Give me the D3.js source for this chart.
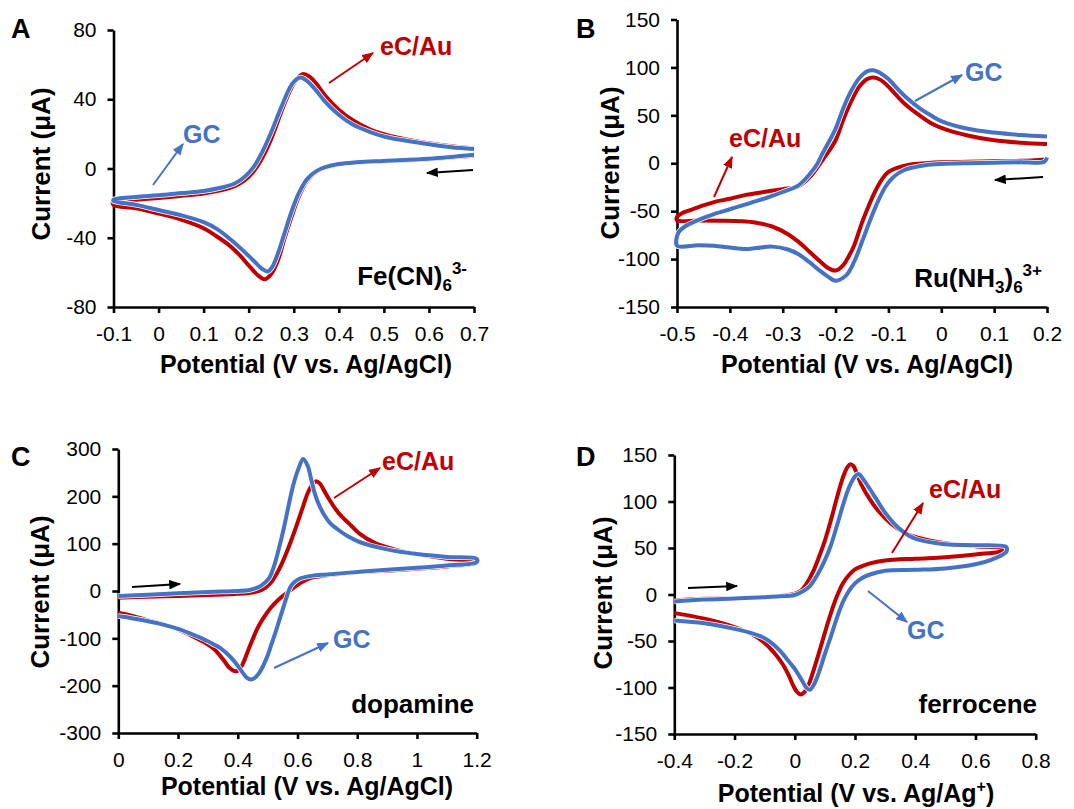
<!DOCTYPE html>
<html>
<head>
<meta charset="utf-8">
<script src="https://cdn.jsdelivr.net/npm/d3@7"></script>
<style>
  body { margin: 0; background: #fff; }
  svg text { font-family: "Liberation Sans", Arial, sans-serif; }
</style>
</head>
<body>
<div id="chart"></div>
<script>
// ---- Panel A: Fe(CN)6 3- (E / V, I / uA), loop starts at 0.7 V going negative
const feXTicks = [-0.1, 0, 0.1, 0.2, 0.3, 0.4, 0.5, 0.6, 0.7];
const feYTicks = [-80, -40, 0, 40, 80];
const feEcAu = [
  [0.70, 7.3], [0.60, 5.4], [0.50, 4.2], [0.44, 3.4], [0.40, 2.4], [0.37, 0.5], [0.35, -2],
  [0.33, -7], [0.31, -17], [0.295, -28], [0.28, -40], [0.265, -53], [0.25, -61], [0.236, -64],
  [0.222, -62], [0.20, -56], [0.18, -50], [0.155, -44], [0.125, -38.5], [0.10, -34.5],
  [0.05, -29.5], [0.0, -26], [-0.05, -23], [-0.1, -21],
  [-0.1, -19], [-0.05, -18], [0.0, -17], [0.05, -15.8], [0.10, -14.5], [0.14, -12.5],
  [0.17, -10], [0.19, -7], [0.21, -2], [0.23, 6], [0.25, 17], [0.27, 31], [0.29, 44],
  [0.305, 51], [0.32, 54.5], [0.335, 53], [0.35, 49], [0.37, 42], [0.40, 34], [0.43, 28],
  [0.47, 22.5], [0.50, 19.8], [0.55, 16.8], [0.60, 14.6], [0.65, 12.8], [0.70, 11.5]
];
const feGC = [
  [0.70, 7.9], [0.60, 5.6], [0.50, 4.4], [0.44, 3.6], [0.40, 2.6], [0.37, 0.8], [0.35, -1.5],
  [0.33, -6], [0.31, -15], [0.295, -25], [0.28, -37], [0.265, -49], [0.252, -57], [0.242, -59.5],
  [0.23, -58], [0.21, -53], [0.19, -48], [0.16, -41], [0.13, -35], [0.10, -31], [0.05, -27],
  [0.0, -24], [-0.05, -21], [-0.1, -18.7],
  [-0.1, -18], [-0.05, -16.5], [0.0, -15.5], [0.05, -14.2], [0.10, -13], [0.14, -11],
  [0.17, -8.5], [0.19, -5], [0.21, 0.5], [0.23, 9.5], [0.25, 21], [0.27, 34], [0.29, 46],
  [0.30, 50], [0.315, 52.5], [0.33, 50.5], [0.35, 45], [0.37, 38.5], [0.40, 31], [0.43, 25.5],
  [0.47, 21], [0.50, 18.5], [0.55, 16], [0.60, 14], [0.65, 12.3], [0.70, 11.3]
];

// ---- Panel B: Ru(NH3)6 3+, loop starts at 0.2 V going negative
const ruXTicks = [-0.5, -0.4, -0.3, -0.2, -0.1, 0, 0.1, 0.2];
const ruYTicks = [-150, -100, -50, 0, 50, 100, 150];
const ruEcAu = [
  [0.2, 4], [0.15, 2.5], [0.1, 2], [0.05, 1.5], [0.0, 1], [-0.03, 0], [-0.06, -1.5],
  [-0.085, -5], [-0.10, -9], [-0.11, -15], [-0.12, -24], [-0.13, -35], [-0.14, -48],
  [-0.15, -62], [-0.165, -86], [-0.175, -97], [-0.185, -106], [-0.2, -112], [-0.215, -109],
  [-0.23, -102], [-0.25, -92], [-0.27, -82], [-0.29, -74], [-0.32, -66], [-0.35, -62],
  [-0.38, -60.5], [-0.42, -60], [-0.46, -59.8], [-0.5, -59.5],
  [-0.5, -56], [-0.49, -52], [-0.475, -49], [-0.45, -44], [-0.43, -40.5], [-0.40, -37],
  [-0.37, -33], [-0.33, -29.5], [-0.30, -27], [-0.27, -24], [-0.248, -14], [-0.225, 3],
  [-0.216, 10], [-0.2, 24], [-0.185, 46], [-0.17, 65], [-0.155, 80], [-0.14, 88],
  [-0.128, 89.5], [-0.115, 87], [-0.10, 80], [-0.085, 71], [-0.065, 60], [-0.04, 49.5],
  [-0.02, 42], [0.0, 37], [0.05, 29], [0.10, 24], [0.15, 21.5], [0.2, 20]
];
const ruGC = [
  [0.2, 6], [0.195, 1.5], [0.15, 1], [0.1, 0.5], [0.05, 0], [0.0, -0.8], [-0.03, -2],
  [-0.05, -4], [-0.07, -7], [-0.09, -14], [-0.105, -24], [-0.12, -40], [-0.135, -60],
  [-0.15, -82], [-0.165, -103], [-0.18, -117], [-0.2, -122.5], [-0.215, -118], [-0.23, -112],
  [-0.25, -103], [-0.27, -95], [-0.29, -90], [-0.32, -87], [-0.35, -88.5], [-0.37, -89.5],
  [-0.40, -88], [-0.43, -86], [-0.46, -85.5], [-0.5, -86],
  [-0.497, -72], [-0.485, -66], [-0.475, -63], [-0.45, -57], [-0.43, -53], [-0.40, -48],
  [-0.37, -43], [-0.33, -36], [-0.30, -30], [-0.27, -23], [-0.25, -12], [-0.235, -1],
  [-0.225, 10], [-0.21, 25], [-0.2, 36], [-0.185, 58], [-0.17, 76], [-0.155, 89], [-0.14, 96],
  [-0.128, 97], [-0.115, 94], [-0.10, 88], [-0.085, 79], [-0.065, 68], [-0.04, 57],
  [-0.02, 50], [0.0, 44], [0.05, 36], [0.10, 32], [0.15, 29.5], [0.2, 28]
];

// ---- Panel C: dopamine, loop starts at 0 V going positive
const dopXTicks = [0, 0.2, 0.4, 0.6, 0.8, 1, 1.2];
const dopYTicks = [-300, -200, -100, 0, 100, 200, 300];
const dopEcAu = [
  [0, -14], [0.1, -12], [0.2, -10.5], [0.3, -8.5], [0.4, -6], [0.45, -3], [0.48, 2],
  [0.51, 17], [0.54, 48], [0.57, 92], [0.595, 135], [0.615, 172], [0.635, 208], [0.65, 225],
  [0.662, 232], [0.675, 227], [0.69, 211], [0.705, 195], [0.72, 180], [0.74, 163],
  [0.76, 150], [0.78, 138], [0.81, 120], [0.86, 101], [0.93, 87], [1.0, 78], [1.1, 68],
  [1.2, 62],
  [1.2, 59.5], [1.1, 52], [1.0, 47], [0.9, 43], [0.8, 40], [0.7, 33], [0.646, 28],
  [0.61, 17], [0.592, 9], [0.565, -4], [0.537, -18], [0.51, -36], [0.483, -60], [0.465, -80],
  [0.45, -102], [0.435, -125], [0.423, -145], [0.41, -162], [0.398, -169], [0.385, -168],
  [0.37, -161], [0.355, -148], [0.34, -136], [0.32, -122], [0.3, -113], [0.25, -96],
  [0.2, -81], [0.15, -70], [0.1, -62], [0.05, -53], [0, -46]
];
const dopGC = [
  [0, -10.5], [0.1, -7.7], [0.2, -5], [0.3, -2], [0.4, 0], [0.44, 2], [0.461, 6], [0.48, 12],
  [0.505, 27], [0.52, 50], [0.537, 88], [0.555, 135], [0.57, 180], [0.585, 222], [0.603, 258],
  [0.619, 279], [0.635, 263], [0.645, 238], [0.657, 208], [0.67, 185], [0.69, 160],
  [0.71, 143], [0.733, 131], [0.77, 115], [0.81, 103], [0.9, 88], [1.0, 78], [1.1, 72],
  [1.2, 68],
  [1.2, 61], [1.1, 54], [1.0, 49], [0.9, 45], [0.8, 40], [0.7, 35], [0.646, 32], [0.603, 25],
  [0.585, 16], [0.575, 7], [0.565, -10], [0.554, -32], [0.54, -60], [0.526, -88],
  [0.512, -114], [0.499, -138], [0.485, -158], [0.472, -173], [0.458, -183], [0.444, -187],
  [0.43, -183], [0.417, -173], [0.4, -158], [0.385, -146], [0.36, -130], [0.341, -120],
  [0.32, -113], [0.3, -106], [0.25, -92], [0.2, -80], [0.15, -71], [0.1, -64], [0.05, -58],
  [0, -53]
];

// ---- Panel D: ferrocene, loop starts at -0.4 V going positive
const fcXTicks = [-0.4, -0.2, 0, 0.2, 0.4, 0.6, 0.8];
const fcYTicks = [-150, -100, -50, 0, 50, 100, 150];
const fcEcAu = [
  [-0.4, -6.5], [-0.3, -4.7], [-0.2, -4], [-0.1, -2.8], [-0.05, -1.5], [0, 1], [0.02, 4],
  [0.04, 12], [0.06, 24], [0.08, 40], [0.1, 58], [0.12, 80], [0.14, 104], [0.16, 126],
  [0.175, 137], [0.185, 140], [0.195, 138], [0.205, 131], [0.22, 119], [0.25, 102],
  [0.28, 89], [0.32, 76], [0.36, 67], [0.4, 62], [0.5, 55], [0.6, 52], [0.7, 49],
  [0.7, 47.5], [0.6, 43], [0.5, 40], [0.4, 38.5], [0.3, 36.5], [0.25, 33.5], [0.22, 30],
  [0.2, 27], [0.18, 21], [0.16, 12], [0.14, -2], [0.12, -20], [0.1, -41], [0.08, -63],
  [0.06, -84], [0.045, -98], [0.032, -105], [0.02, -107.5], [0.008, -105], [-0.005, -98],
  [-0.02, -87], [-0.04, -75], [-0.065, -64], [-0.1, -52], [-0.14, -43], [-0.2, -35],
  [-0.3, -26], [-0.4, -20]
];
const fcGC = [
  [-0.4, -7.5], [-0.3, -5.4], [-0.2, -4.3], [-0.1, -2.9], [-0.05, -2], [0, -0.5], [0.03, 4],
  [0.05, 9], [0.075, 21], [0.1, 37], [0.12, 53], [0.14, 74], [0.16, 96], [0.18, 115],
  [0.2, 127], [0.212, 129.5], [0.225, 125], [0.24, 118], [0.27, 103], [0.3, 88], [0.35, 70],
  [0.4, 60], [0.5, 54], [0.6, 53], [0.7, 51.5],
  [0.705, 49], [0.7, 45], [0.65, 37], [0.6, 32.5], [0.5, 28], [0.4, 26.5], [0.3, 25.5],
  [0.25, 21.5], [0.22, 17], [0.2, 12], [0.18, 4], [0.16, -8], [0.14, -25], [0.12, -45],
  [0.1, -64], [0.08, -84], [0.065, -96], [0.05, -102.5], [0.038, -100], [0.025, -93],
  [0.01, -85], [0, -80], [-0.025, -70], [-0.05, -60], [-0.1, -47], [-0.15, -41], [-0.2, -37],
  [-0.3, -31], [-0.4, -28]
];

const RED = "#c00000";
const BLUE = "#4472c4";

const svg = d3.select("#chart").append("svg")
  .attr("width", 1074)
  .attr("height", 809);

const defs = svg.append("defs");
[["red", RED], ["blue", BLUE], ["black", "#000"]].forEach(([id, c]) => {
  defs.append("marker")
    .attr("id", "ah-" + id)
    .attr("viewBox", "0 0 10 8")
    .attr("refX", 9)
    .attr("refY", 4)
    .attr("markerUnits", "userSpaceOnUse")
    .attr("markerWidth", 12)
    .attr("markerHeight", 10)
    .attr("orient", "auto")
    .append("path")
    .attr("d", "M0,0L10,4L0,8Z")
    .attr("fill", c);
});

function arrow(x1, y1, x2, y2, id, color) {
  svg.append("line")
    .attr("x1", x1).attr("y1", y1).attr("x2", x2).attr("y2", y2)
    .attr("stroke", color)
    .attr("stroke-width", 2)
    .attr("marker-end", `url(#ah-${id})`);
}

function label(x, y, txt, color, size, anchor) {
  return svg.append("text")
    .attr("x", x).attr("y", y)
    .attr("fill", color)
    .attr("font-size", size)
    .attr("font-weight", "bold")
    .attr("text-anchor", anchor || "start")
    .text(txt);
}

function drawPanel(p) {
  const x = d3.scaleLinear().domain(p.xDomain).range([p.left, p.right]);
  const y = d3.scaleLinear().domain(p.yDomain).range([p.bottom, p.top]);
  const g = svg.append("g");

  const yAxis = d3.axisLeft(y)
    .tickValues(p.yTicks)
    .tickFormat(d => String(d))
    .tickSize(6)
    .tickSizeOuter(0)
    .tickPadding(11);
  const xAxis = d3.axisBottom(x)
    .tickValues(p.xTicks)
    .tickFormat(d => String(d))
    .tickSize(6)
    .tickSizeOuter(0)
    .tickPadding(13);

  const ya = g.append("g").attr("transform", `translate(${p.left},0)`).call(yAxis);
  const xa = g.append("g").attr("transform", `translate(0,${p.bottom})`).call(xAxis);
  [ya, xa].forEach(a => {
    a.select(".domain").attr("stroke", "#000").attr("stroke-width", 2.6);
    a.selectAll(".tick line").attr("stroke", "#000").attr("stroke-width", 2.6);
    a.selectAll(".tick text")
      .attr("font-size", 21)
      .attr("fill", "#000")
      .attr("font-family", "'Liberation Sans', Arial, sans-serif");
  });

  const line = d3.line()
    .x(d => x(d[0]))
    .y(d => y(d[1]))
    .curve(d3.curveCatmullRom.alpha(0.5));

  g.append("path")
    .datum(p.red)
    .attr("d", line)
    .attr("fill", "none")
    .attr("stroke", RED)
    .attr("stroke-width", 4)
    .attr("stroke-linejoin", "round");
  g.append("path")
    .datum(p.blue)
    .attr("d", line)
    .attr("fill", "none")
    .attr("stroke", "#fff")
    .attr("stroke-width", 5.5)
    .attr("stroke-linejoin", "round");
  g.append("path")
    .datum(p.blue)
    .attr("d", line)
    .attr("fill", "none")
    .attr("stroke", BLUE)
    .attr("stroke-width", 4)
    .attr("stroke-linejoin", "round");

  // axis titles
  svg.append("text")
    .attr("transform", `translate(${p.yTitleX},${p.yTitleY}) rotate(-90)`)
    .attr("text-anchor", "middle")
    .attr("dominant-baseline", "central")
    .attr("font-size", 26)
    .attr("font-weight", "bold")
    .text("Current (μA)");

  const xt = svg.append("text")
    .attr("x", p.xTitleX)
    .attr("y", p.xTitleY)
    .attr("text-anchor", "middle")
    .attr("font-size", 25)
    .attr("font-weight", "bold");
  if (p.xTitleSup) {
    xt.append("tspan").text("Potential (V vs. Ag/Ag");
    xt.append("tspan").attr("font-size", 16).attr("dy", -10).text("+");
    xt.append("tspan").attr("dy", 10).text(")");
  } else {
    xt.text("Potential (V vs. Ag/AgCl)");
  }

  label(p.letterX, p.letterY, p.letter, "#000", 27);
}

drawPanel({
  letter: "A", letterX: 11, letterY: 38,
  left: 113.5, right: 474, top: 30, bottom: 307,
  xDomain: [-0.1, 0.7], yDomain: [-80, 80], xTicks: feXTicks, yTicks: feYTicks,
  red: feEcAu, blue: feGC,
  yTitleX: 41, yTitleY: 164, xTitleX: 306, xTitleY: 373
});
drawPanel({
  letter: "B", letterX: 576, letterY: 38,
  left: 677, right: 1047, top: 19.5, bottom: 307,
  xDomain: [-0.5, 0.2], yDomain: [-150, 150], xTicks: ruXTicks, yTicks: ruYTicks,
  red: ruEcAu, blue: ruGC,
  yTitleX: 610, yTitleY: 163, xTitleX: 867, xTitleY: 373
});
drawPanel({
  letter: "C", letterX: 11, letterY: 466,
  left: 118.3, right: 476.7, top: 449, bottom: 733,
  xDomain: [0, 1.2], yDomain: [-300, 300], xTicks: dopXTicks, yTicks: dopYTicks,
  red: dopEcAu, blue: dopGC,
  yTitleX: 40, yTitleY: 592, xTitleX: 307, xTitleY: 795
});
drawPanel({
  letter: "D", letterX: 576, letterY: 466,
  left: 674.3, right: 1035.7, top: 455, bottom: 734,
  xDomain: [-0.4, 0.8], yDomain: [-150, 150], xTicks: fcXTicks, yTicks: fcYTicks,
  red: fcEcAu, blue: fcGC,
  yTitleX: 603, yTitleY: 593, xTitleX: 856, xTitleY: 802, xTitleSup: true
});

// ---- annotations: panel A
label(380, 55, "eC/Au", RED, 25);
arrow(329, 83, 373, 53, "red", RED);
label(183, 143, "GC", BLUE, 25);
arrow(153, 185, 183, 144, "blue", BLUE);
arrow(473, 170, 427, 173, "black", "#000");
const tA = svg.append("text").attr("x", 467).attr("y", 285).attr("text-anchor", "end")
  .attr("font-size", 26).attr("font-weight", "bold");
tA.append("tspan").text("Fe(CN)");
tA.append("tspan").attr("font-size", 17).attr("dy", 6).text("6");
tA.append("tspan").attr("font-size", 17).attr("dy", -17).text("3-");

// ---- panel B
label(965, 81, "GC", BLUE, 25);
arrow(915, 101, 962, 75, "blue", BLUE);
label(729, 147, "eC/Au", RED, 25);
arrow(714, 197, 732, 157, "red", RED);
arrow(1043, 177, 995, 180, "black", "#000");
const tB = svg.append("text").attr("x", 1042).attr("y", 287).attr("text-anchor", "end")
  .attr("font-size", 26).attr("font-weight", "bold");
tB.append("tspan").text("Ru(NH");
tB.append("tspan").attr("font-size", 17).attr("dy", 6).text("3");
tB.append("tspan").attr("dy", -6).text(")");
tB.append("tspan").attr("font-size", 17).attr("dy", 6).text("6");
tB.append("tspan").attr("font-size", 17).attr("dy", -17).text("3+");

// ---- panel C
label(382, 470, "eC/Au", RED, 25);
arrow(334, 498, 380, 468, "red", RED);
label(333, 648, "GC", BLUE, 25);
arrow(274, 668, 328, 643, "blue", BLUE);
arrow(132, 587, 180, 584, "black", "#000");
label(474, 713, "dopamine", "#000", 26, "end");

// ---- panel D
label(929, 498, "eC/Au", RED, 25);
arrow(892, 553, 923, 503, "red", RED);
label(907, 639, "GC", BLUE, 25);
arrow(868, 591, 907, 622, "blue", BLUE);
arrow(688, 588, 737, 586, "black", "#000");
label(1037, 713, "ferrocene", "#000", 26, "end");
</script>
</body>
</html>
